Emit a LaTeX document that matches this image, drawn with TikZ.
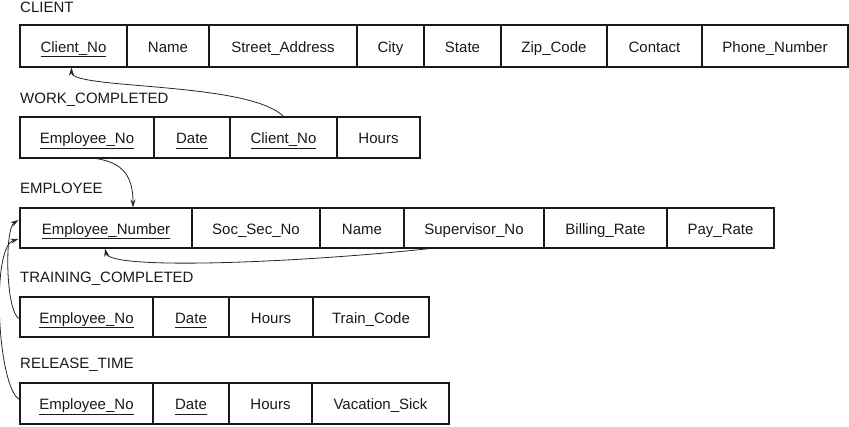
\documentclass[tikz,border=0pt]{standalone}
\usepackage{fontspec}
\setmainfont{Liberation Sans}
\usetikzlibrary{arrows.meta}
\newcommand\ul[1]{\underline{#1\vphantom{p}}}
\tikzset{
  cell/.style={draw=black!90, line width=1.1pt, inner sep=0pt, text height=12pt, text depth=0pt,
    font=\fontsize{15}{17}\selectfont, text=black!90},
  tlabel/.style={anchor=base west, inner sep=0pt, font=\fontsize{15}{17}\selectfont, text=black!90},
  fk/.style={line width=0.8pt, draw=black!85, -{Stealth[length=8pt,width=5pt]}}
}
\begin{document}
\begin{tikzpicture}[x=1pt,y=-1pt]
\useasboundingbox (0,0) rectangle (849,426);
% CLIENT
\node[tlabel] (lc) at (20,12) {CLIENT};
\node[cell, minimum width=107pt, minimum height=42pt] (c1) at (73.5,46) {\ul{Client\_No}};
\node[cell, minimum width=82pt, minimum height=42pt] (c2) at (168,46) {Name};
\node[cell, minimum width=148pt, minimum height=42pt] (c3) at (283,46) {Street\_Address};
\node[cell, minimum width=67pt, minimum height=42pt] (c4) at (390.5,46) {City};
\node[cell, minimum width=77pt, minimum height=42pt] (c5) at (462.5,46) {State};
\node[cell, minimum width=106pt, minimum height=42pt] (c6) at (554,46) {Zip\_Code};
\node[cell, minimum width=95pt, minimum height=42pt] (c7) at (654.5,46) {Contact};
\node[cell, minimum width=146pt, minimum height=42pt] (c8) at (775,46) {Phone\_Number};
% WORK_COMPLETED
\node[tlabel] (lw) at (20,103) {WORK\_COMPLETED};
\node[cell, minimum width=134pt, minimum height=41pt] (w1) at (87,137.5) {\ul{Employee\_No}};
\node[cell, minimum width=76pt, minimum height=41pt] (w2) at (192,137.5) {\ul{Date}};
\node[cell, minimum width=107pt, minimum height=41pt] (w3) at (283.5,137.5) {\ul{Client\_No}};
\node[cell, minimum width=83pt, minimum height=41pt] (w4) at (378.5,137.5) {Hours};
% EMPLOYEE
\node[tlabel] (le) at (20,193) {EMPLOYEE};
\node[cell, minimum width=172pt, minimum height=40pt] (e1) at (106,228) {\ul{Employee\_Number}};
\node[cell, minimum width=128pt, minimum height=40pt] (e2) at (256,228) {Soc\_Sec\_No};
\node[cell, minimum width=84pt, minimum height=40pt] (e3) at (362,228) {Name};
\node[cell, minimum width=140pt, minimum height=40pt] (e4) at (474,228) {Supervisor\_No};
\node[cell, minimum width=123pt, minimum height=40pt] (e5) at (605.5,228) {Billing\_Rate};
\node[cell, minimum width=107pt, minimum height=40pt] (e6) at (720.5,228) {Pay\_Rate};
% TRAINING_COMPLETED
\node[tlabel] (lt) at (20,282) {TRAINING\_COMPLETED};
\node[cell, minimum width=133pt, minimum height=40pt] (t1) at (86.5,317) {\ul{Employee\_No}};
\node[cell, minimum width=76pt, minimum height=40pt] (t2) at (191,317) {\ul{Date}};
\node[cell, minimum width=84pt, minimum height=40pt] (t3) at (271,317) {Hours};
\node[cell, minimum width=116pt, minimum height=40pt] (t4) at (371,317) {Train\_Code};
% RELEASE_TIME
\node[tlabel] (lr) at (20,368) {RELEASE\_TIME};
\node[cell, minimum width=133pt, minimum height=41pt] (r1) at (86.5,403.5) {\ul{Employee\_No}};
\node[cell, minimum width=76pt, minimum height=41pt] (r2) at (191,403.5) {\ul{Date}};
\node[cell, minimum width=83pt, minimum height=41pt] (r3) at (270.5,403.5) {Hours};
\node[cell, minimum width=137pt, minimum height=41pt] (r4) at (380.5,403.5) {Vacation\_Sick};
% connectors
\draw[fk] (w3.north) .. controls +(-35,-35) and +(0,22) .. ([xshift=-2pt]c1.south);
\draw[fk] ([xshift=9pt]w1.south) .. controls +(28,4) and +(0,-30) .. ([xshift=27pt]e1.north);
\draw[fk] ([xshift=-44pt]e4.south) .. controls +(-130,14) and +(5,22) .. ([xshift=-1pt]e1.south);
\draw[fk] ([yshift=-2pt]t1.west) .. controls +(-14,-7) and +(-14,9) .. ([xshift=-1pt,yshift=8pt]e1.west);
\draw[fk] ([yshift=4pt]r1.west) .. controls +(-22,-12) and +(-28,8) .. ([xshift=-1pt,yshift=-11pt]e1.west);
\end{tikzpicture}
\end{document}
